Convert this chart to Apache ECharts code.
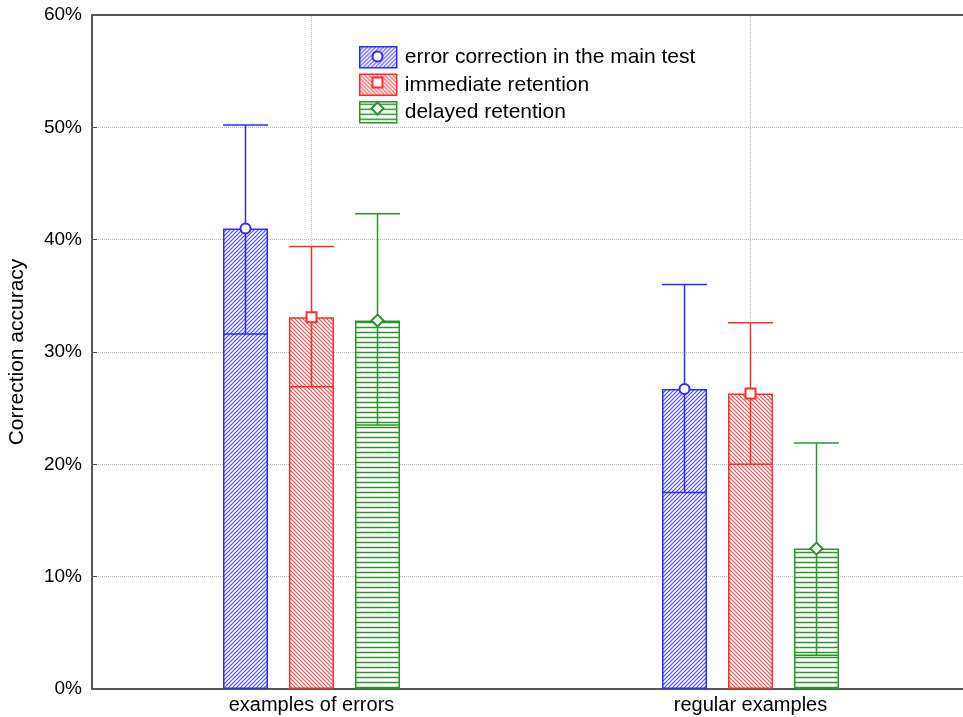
<!DOCTYPE html>
<html><head><meta charset="utf-8">
<script src="https://cdn.jsdelivr.net/npm/echarts@6/dist/echarts.min.js"></script>
<style>html,body{margin:0;padding:0;background:#fff}#c{width:963px;height:717px}</style>
</head><body><div id="c"></div>
<script>
// ---- data ----
const categories = ['examples of errors', 'regular examples'];
const seriesNames = ['error correction in the main test', 'immediate retention', 'delayed retention'];
const meanMain = [41.0, 26.7];
const lowMain  = [31.6, 17.5];
const highMain = [50.2, 36.0];
const meanImm  = [33.1, 26.3];
const lowImm   = [26.9, 20.0];
const highImm  = [39.4, 32.6];
const meanDel  = [32.8, 12.5];
const lowDel   = [23.5, 3.0];
const highDel  = [42.3, 21.9];
const yTicks = [0, 10, 20, 30, 40, 50, 60];

// ---- styles ----
const FONT = 'Arial, "Liberation Sans", sans-serif';
const COLORS = ['#2b2bff', '#ff2b2b', '#2a962a'];
const HATCH_COLORS = ['#4d4dff', '#ff4d4d', '#2a962a'];
const HATCH = ['/', '\\', 'h'];
const SHAPES = ['circle', 'square', 'diamond'];
const BAR_W = 45, BAR_GAP = 21;
const LEG = {left: 359, top: 46, w: 37, h: 21, gap: 5};

function hatch(color, kind) {
  const s = kind === 'h' ? 5 : 4;
  const c = document.createElement('canvas');
  c.width = s; c.height = s;
  const g = c.getContext('2d');
  g.fillStyle = '#fff'; g.fillRect(0, 0, s, s);
  g.strokeStyle = color; g.lineWidth = kind === 'h' ? 1.5 : 1.2;
  g.beginPath();
  if (kind === 'h') {
    g.moveTo(0, s / 2); g.lineTo(s, s / 2);
  } else if (kind === '/') {
    g.moveTo(-1, s + 1); g.lineTo(s + 1, -1);
    g.moveTo(-1, 1); g.lineTo(1, -1);
    g.moveTo(s - 1, s + 1); g.lineTo(s + 1, s - 1);
  } else {
    g.moveTo(-1, -1); g.lineTo(s + 1, s + 1);
    g.moveTo(-1, s - 1); g.lineTo(1, s + 1);
    g.moveTo(s - 1, -1); g.lineTo(s + 1, 1);
  }
  g.stroke();
  return {image: c, repeat: 'repeat'};
}

function markerShape(shape, x, y, color) {
  const st = {fill: '#fff', stroke: color, lineWidth: 2};
  if (shape === 'circle') return {type: 'circle', shape: {cx: x, cy: y, r: 5}, style: st, z2: 10};
  if (shape === 'square') return {type: 'rect', shape: {x: x - 5, y: y - 5, width: 10, height: 10}, style: st, z2: 10};
  return {type: 'polygon', shape: {points: [[x, y - 6], [x + 6, y], [x, y + 6], [x - 6, y]]}, style: st, z2: 10};
}

const means = [meanMain, meanImm, meanDel];
const lows = [lowMain, lowImm, lowDel];
const highs = [highMain, highImm, highDel];

const series = [];
seriesNames.forEach((name, k) => {
  series.push({
    type: 'bar', name: name, data: means[k],
    barWidth: BAR_W, barGap: (BAR_GAP / BAR_W * 100) + '%',
    itemStyle: {color: hatch(HATCH_COLORS[k], HATCH[k]), borderColor: COLORS[k], borderWidth: 1.5},
    emphasis: {disabled: true},
    z: 2
  });
});
seriesNames.forEach((name, k) => {
  series.push({
    type: 'custom', name: name + ' (error)',
    data: categories.map((c, i) => [i, lows[k][i], highs[k][i], means[k][i]]),
    encode: {x: 0, y: [1, 2]},
    z: 3, silent: true,
    renderItem: function (params, api) {
      const ci = api.value(0);
      const x = api.coord([ci, 0])[0] + (k - 1) * (BAR_W + BAR_GAP);
      const yl = api.coord([ci, api.value(1)])[1];
      const yh = api.coord([ci, api.value(2)])[1];
      const ym = api.coord([ci, api.value(3)])[1];
      const ls = {stroke: COLORS[k], lineWidth: 1.5};
      const hw = BAR_W / 2;
      return {type: 'group', children: [
        {type: 'line', shape: {x1: x, y1: yl, x2: x, y2: yh}, style: ls},
        {type: 'line', shape: {x1: x - hw, y1: yh, x2: x + hw, y2: yh}, style: ls},
        {type: 'line', shape: {x1: x - hw, y1: yl, x2: x + hw, y2: yl}, style: ls},
        markerShape(SHAPES[k], x, ym, COLORS[k])
      ]};
    }
  });
});
// vertical dotted lines at category centres
series.push({
  type: 'line', name: 'grid-v', data: [], silent: true,
  markLine: {
    silent: true, symbol: 'none', z: 1, label: {show: false},
    lineStyle: {color: '#bbb', type: 'dotted', width: 1},
    data: categories.map(c => ({xAxis: c}))
  }
});

const graphics = SHAPES.map((s, k) =>
  markerShape(s, LEG.left + LEG.w / 2, LEG.top + k * (LEG.h + LEG.gap) + LEG.h / 2, COLORS[k]));
graphics.forEach(g => { g.z = 100; });

const option = {
  animation: false,
  textStyle: {fontFamily: FONT},
  grid: {left: 92, top: 15, width: 878, bottom: 28, outerBoundsMode: 'none', containLabel: false},
  legend: {
    data: seriesNames, orient: 'vertical', left: LEG.left, top: LEG.top,
    itemWidth: LEG.w, itemHeight: LEG.h, itemGap: LEG.gap, icon: 'rect',
    textStyle: {fontSize: 21, color: '#000', fontFamily: FONT, padding: [0, 0, 0, 3]},
    itemStyle: {borderWidth: 1.5},
    selectedMode: false, padding: 0
  },
  xAxis: [{
    type: 'category', data: categories, position: 'bottom',
    axisLine: {lineStyle: {color: '#555', width: 2}},
    axisTick: {alignWithLabel: true, inside: true, length: 5, lineStyle: {color: '#333'}},
    axisLabel: {fontSize: 20, color: '#000', margin: 6, fontFamily: FONT},
    splitLine: {show: false}
  }, {
    type: 'category', data: categories, position: 'top',
    axisLine: {lineStyle: {color: '#555', width: 2}},
    axisTick: {alignWithLabel: true, inside: true, length: 5, lineStyle: {color: '#333'}},
    axisLabel: {show: false}, splitLine: {show: false}
  }],
  yAxis: {
    type: 'value', min: yTicks[0], max: yTicks[yTicks.length - 1], interval: yTicks[1] - yTicks[0],
    name: 'Correction accuracy', nameLocation: 'middle', nameGap: 64,
    nameTextStyle: {fontSize: 21, color: '#000', fontFamily: FONT},
    axisLine: {show: true, lineStyle: {color: '#555', width: 2}},
    axisTick: {show: true, inside: true, length: 5, lineStyle: {color: '#555'}},
    axisLabel: {fontSize: 19, color: '#000', margin: 10, formatter: '{value}%', fontFamily: FONT},
    splitLine: {lineStyle: {color: '#bbb', type: 'dotted', width: 1}}
  },
  graphic: graphics,
  series: series
};
const chart = echarts.init(document.getElementById('c'), null, {renderer: 'canvas'});
chart.setOption(option);
</script></body></html>
